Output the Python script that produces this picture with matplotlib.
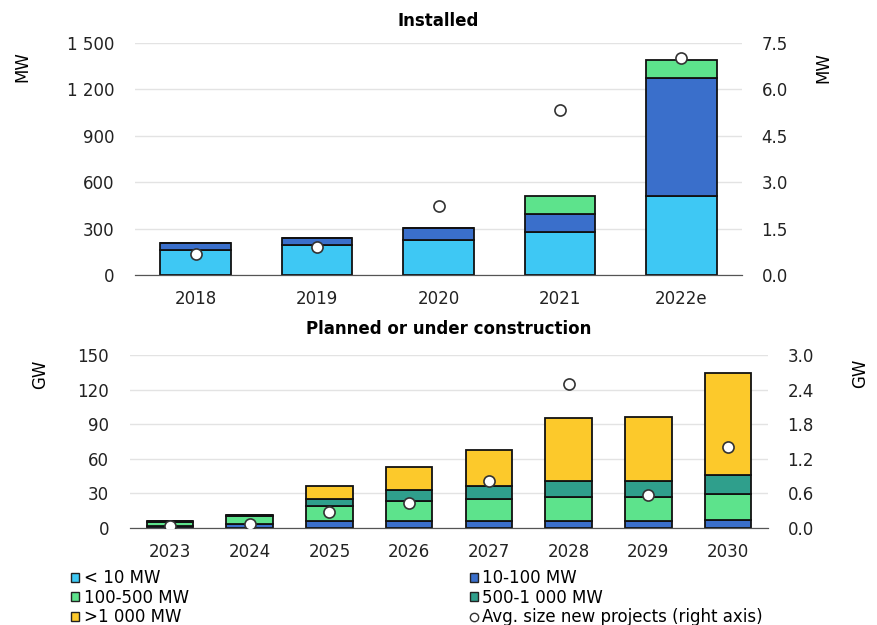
import matplotlib.pyplot as plt
import matplotlib.ticker as mticker
from matplotlib.patches import Patch
from matplotlib.lines import Line2D
import numpy as np

plt.rcParams['font.family'] = ['DejaVu Sans']
plt.rcParams['font.size'] = 12

# installed (MW)
years_inst = ['2018', '2019', '2020', '2021', '2022e']
inst_lt10 = [160, 195, 228, 278, 508]
inst_10_100 = [45, 45, 76, 116, 766]
inst_100_500 = [0, 0, 0, 114, 116]
inst_avg = [0.68, 0.92, 2.22, 5.34, 7.01]   # MW, right axis

# planned or under construction (GW)
years_plan = ['2023', '2024', '2025', '2026', '2027', '2028', '2029', '2030']
plan_lt10 = [0.2, 0.2, 0.2, 0.2, 0.2, 0.2, 0.2, 0.2]
plan_10_100 = [1.5, 3.3, 5.6, 5.6, 5.6, 5.6, 5.6, 6.7]
plan_100_500 = [3.8, 7.0, 13.0, 17.3, 19.6, 20.8, 20.8, 22.3]
plan_500_1000 = [0.6, 1.0, 6.6, 10.1, 10.7, 14.4, 14.4, 16.5]
plan_gt1000 = [0.0, 0.0, 11.3, 20.0, 31.5, 54.1, 55.2, 88.4]
plan_avg = [0.03, 0.07, 0.27, 0.43, 0.82, 2.50, 0.58, 1.41]   # GW, right axis

labels = ['< 10 MW', '10-100 MW', '100-500 MW', '500-1 000 MW', '>1 000 MW']
colors = ['#3ec8f4', '#3a6fcb', '#5de38c', '#2f9f8c', '#fcc92b']

W, H = 877, 625
fig = plt.figure(figsize=(W / 100, H / 100), dpi=100)


def px_axes(x0, y0, x1, y1):
    return fig.add_axes([x0 / W, 1 - y1 / H, (x1 - x0) / W, (y1 - y0) / H])


def style(ax, ymax, step, fmt):
    ax.set_ylim(0, ymax)
    ax.set_yticks(np.arange(0, ymax + step / 2, step))
    ax.yaxis.set_major_formatter(mticker.FuncFormatter(fmt))
    ax.grid(axis='y', color='#e3e3e3', lw=1)
    ax.set_axisbelow(True)
    for s in ['top', 'left', 'right']:
        ax.spines[s].set_visible(False)
    ax.spines['bottom'].set_color('#555555')
    ax.tick_params(length=0, labelcolor='#222222')


def thousands(v, pos):
    return '{:,.0f}'.format(v).replace(',', ' ')


def stacked(ax, n, series, width):
    x = np.arange(n)
    bottom = np.zeros(n)
    for vals, c in zip(series, colors):
        ax.bar(x, vals, width, bottom=bottom, color=c, edgecolor='#111111', lw=1.3, zorder=2)
        bottom += np.array(vals)
    return x


# ---- top: installed
ax1 = px_axes(135, 43, 742, 275)
x1 = stacked(ax1, len(years_inst), [inst_lt10, inst_10_100, inst_100_500], 0.58)
ax1.set_xlim(-0.5, len(years_inst) - 0.5)
ax1.set_xticks(x1)
ax1.set_xticklabels(years_inst)
style(ax1, 1500, 300, thousands)
ax1.tick_params(axis='y', pad=15)
ax1.tick_params(axis='x', pad=11)
ax1.set_title('Installed', fontweight='bold', fontsize=12, pad=12)
ax1r = ax1.twinx()
ax1r.plot(x1, inst_avg, 'o', ms=8, mfc='white', mec='#333333', mew=1.2, zorder=5)
style(ax1r, 7.5, 1.5, lambda v, p: '{:.1f}'.format(v))
ax1r.grid(False)
ax1r.tick_params(axis='y', pad=14)
fig.text(22 / W, 1 - 67 / H, 'MW', rotation=90, ha='center', va='center')
fig.text(823 / W, 1 - 68 / H, 'MW', rotation=90, ha='center', va='center')

# ---- bottom: planned
ax2 = px_axes(130, 355, 768, 528)
x2 = stacked(ax2, len(years_plan),
             [plan_lt10, plan_10_100, plan_100_500, plan_500_1000, plan_gt1000], 0.585)
ax2.set_xlim(-0.5, len(years_plan) - 0.5)
ax2.set_xticks(x2)
ax2.set_xticklabels(years_plan)
style(ax2, 150, 30, lambda v, p: '{:.0f}'.format(v))
ax2.tick_params(axis='y', pad=15)
ax2.tick_params(axis='x', pad=11)
ax2.set_title('Planned or under construction', fontweight='bold', fontsize=12, pad=15)
ax2r = ax2.twinx()
ax2r.plot(x2, plan_avg, 'o', ms=8, mfc='white', mec='#333333', mew=1.2, zorder=5)
style(ax2r, 3.0, 0.6, lambda v, p: '{:.1f}'.format(v))
ax2r.grid(False)
ax2r.tick_params(axis='y', pad=14)
fig.text(40 / W, 1 - 374 / H, 'GW', rotation=90, ha='center', va='center')
fig.text(860 / W, 1 - 373 / H, 'GW', rotation=90, ha='center', va='center')

# ---- legend
patches = [Patch(facecolor=c, edgecolor='#222222', lw=1) for c in colors]
avg_handle = Line2D([], [], ls='', marker='o', ms=6, mfc='white', mec='#333333')
kw = dict(frameon=False, handlelength=0.45, handleheight=0.45, handletextpad=0.3,
          labelspacing=0.1, fontsize=12, borderaxespad=0, borderpad=0)
fig.legend([patches[0], patches[2], patches[4]], [labels[0], labels[2], labels[4]],
           loc='upper left', bbox_to_anchor=(71 / W, 1 - 569 / H), **kw)
fig.legend([patches[1], patches[3], avg_handle],
           [labels[1], labels[3], 'Avg. size new projects (right axis)'],
           loc='upper left', bbox_to_anchor=(470 / W, 1 - 569 / H), **kw)

fig.savefig('out.png', dpi=100)
